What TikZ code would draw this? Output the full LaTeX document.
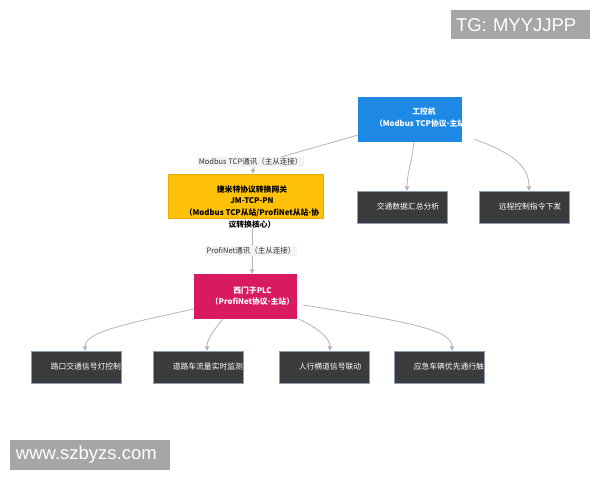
\documentclass[tikz,border=0pt]{standalone}
\usepackage{fontspec}
\setmainfont{Noto Sans CJK SC}
\newfontfamily\wmfont{Liberation Sans}
\newfontfamily\dotfont{DejaVu Sans}
\newcommand{\mdot}{{\dotfont\bfseries ·}}
\usepackage{xcolor}
\usepackage{tikz}
\usetikzlibrary{arrows.meta,calc}
\definecolor{ipcblue}{HTML}{1E88E5}
\definecolor{gwyellow}{HTML}{FFC107}
\definecolor{gwedge}{HTML}{EBA800}
\definecolor{plcred}{HTML}{D81B60}
\definecolor{taskgray}{HTML}{3A3B3D}
\definecolor{taskedge}{HTML}{8E9CB2}
\definecolor{edgegray}{HTML}{B4B4B4}
\definecolor{lblbg}{HTML}{F3F3F6}
\definecolor{lbltext}{HTML}{333333}
\definecolor{wmgray}{HTML}{A6A6A6}

\begin{document}
\begin{tikzpicture}[x=1pt,y=-1pt,
  edge/.style={draw=edgegray,line width=0.8pt,-{Triangle[length=4.5pt,width=4.5pt]}},
  lbl/.style={fill=lblbg,text=lbltext,inner xsep=2pt,inner ysep=1.5pt,font=\fontsize{7.5}{9}\selectfont},
  hubtext/.style={text=white,align=center,inner sep=0pt,fill=none,draw=none,
    minimum width=0pt,minimum height=0pt,font=\bfseries\fontsize{7.8}{11.5}\selectfont},
  hub/.style n args={3}{fill=#1,inner sep=0pt,
    path picture={\node[hubtext] at ($(path picture bounding box.center)+#2$) {#3};}},
  task/.style={fill=taskgray,draw=taskedge,line width=0.5pt,inner sep=0pt,
    minimum width=90pt,minimum height=32pt,
    path picture={\node[anchor=west,text=white,inner sep=0pt,fill=none,draw=none,
      minimum width=0pt,minimum height=0pt,
      font=\fontsize{7.8}{9}\selectfont] at ([xshift=19.5pt]path picture bounding box.west) {#1};}},
  wm/.style={fill=wmgray,text=white,align=left,inner ysep=0pt,font=\wmfont\fontsize{18.5}{20}\selectfont}]
\useasboundingbox (0,0) rectangle (600,480);

% boxes
\node[hub={ipcblue}{(14,-1.75)}{工控机\\（Modbus TCP协议\mdot 主站）},
  minimum width=104pt,minimum height=45pt] (ipc) at (410,119.5) {};
\node[fill=gwyellow,draw=gwedge,line width=0.5pt,inner sep=0pt,
  minimum width=155pt,minimum height=44pt] (gw) at (245.5,196) {};
\node[hub={plcred}{(7,-0.5)}{西门子PLC\\（ProfiNet协议\mdot 主站）},
  minimum width=103pt,minimum height=45pt] (plc) at (245.5,296.5) {};
\node[task=交通数据汇总分析] (sum) at (402,207) {};
\node[task=远程控制指令下发] (remote) at (524,207) {};
\node[task=路口交通信号灯控制] (light) at (76,367) {};
\node[task=道路车流量实时监测] (flow) at (198,367) {};
\node[task=人行横道信号联动] (walk) at (324,367) {};
\node[task=应急车辆优先通行触发] (emerg) at (439,367) {};

% connectors
\draw[edge] ($(ipc.west)+(0,15.5)$) .. controls (290,155) and (253,163) .. ($(gw.north)+(7.5,0)$);
\draw[edge] ($(ipc.south)+(4,0)$) .. controls (411,165) and (407,175) .. ($(sum.north)+(5,0)$);
\draw[edge] ($(ipc.south east)+(12,-3)$) .. controls (510,152) and (529,165) .. ($(remote.north)+(5,0)$);
\draw[edge] ($(gw.south)+(6.5,11)$) -- ($(plc.north)+(6.5,0)$);
\draw[edge] ($(plc.west)+(0,12.5)$) .. controls (125,324) and (85,332) .. ($(light.north)+(9,0)$);
\draw[edge] ($(plc.south west)+(29,0)$) .. controls (212,332) and (207,340) .. ($(flow.north)+(9,0)$);
\draw[edge] ($(plc.south east)+(2,0)$) .. controls (322,330) and (330,340) .. ($(walk.north)+(6,0)$);
\draw[edge] ($(plc.east)+(6,8.5)$) .. controls (410,322) and (452,330) .. ($(emerg.north)+(13,0)$);

% gateway text runs past its box
\node[hubtext,text=black,font=\bfseries\fontsize{7.8}{11.7}\selectfont] (gwtxt) at ($(gw.center)+(6.5,10.75)$)
  {捷米特协议转换网关\\JM-TCP-PN\\（Modbus TCP从站/ProfiNet从站\mdot 协\\议转换核心）};

% edge labels
\node[lbl] (modbuslbl) at (250.5,162) {Modbus TCP通讯（主从连接）};
\node[lbl] (profilbl) at (251,251) {ProfiNet通讯（主从连接）};

% watermarks
\node[wm,text width=129pt,inner xsep=5pt,minimum height=29pt] (tg) at (520.5,24.75) {TG: MYYJJPP};
\node[wm,text width=148pt,inner xsep=6pt,minimum height=30pt] (www) at (90,455) {www.szbyzs.com};
\end{tikzpicture}
\end{document}
